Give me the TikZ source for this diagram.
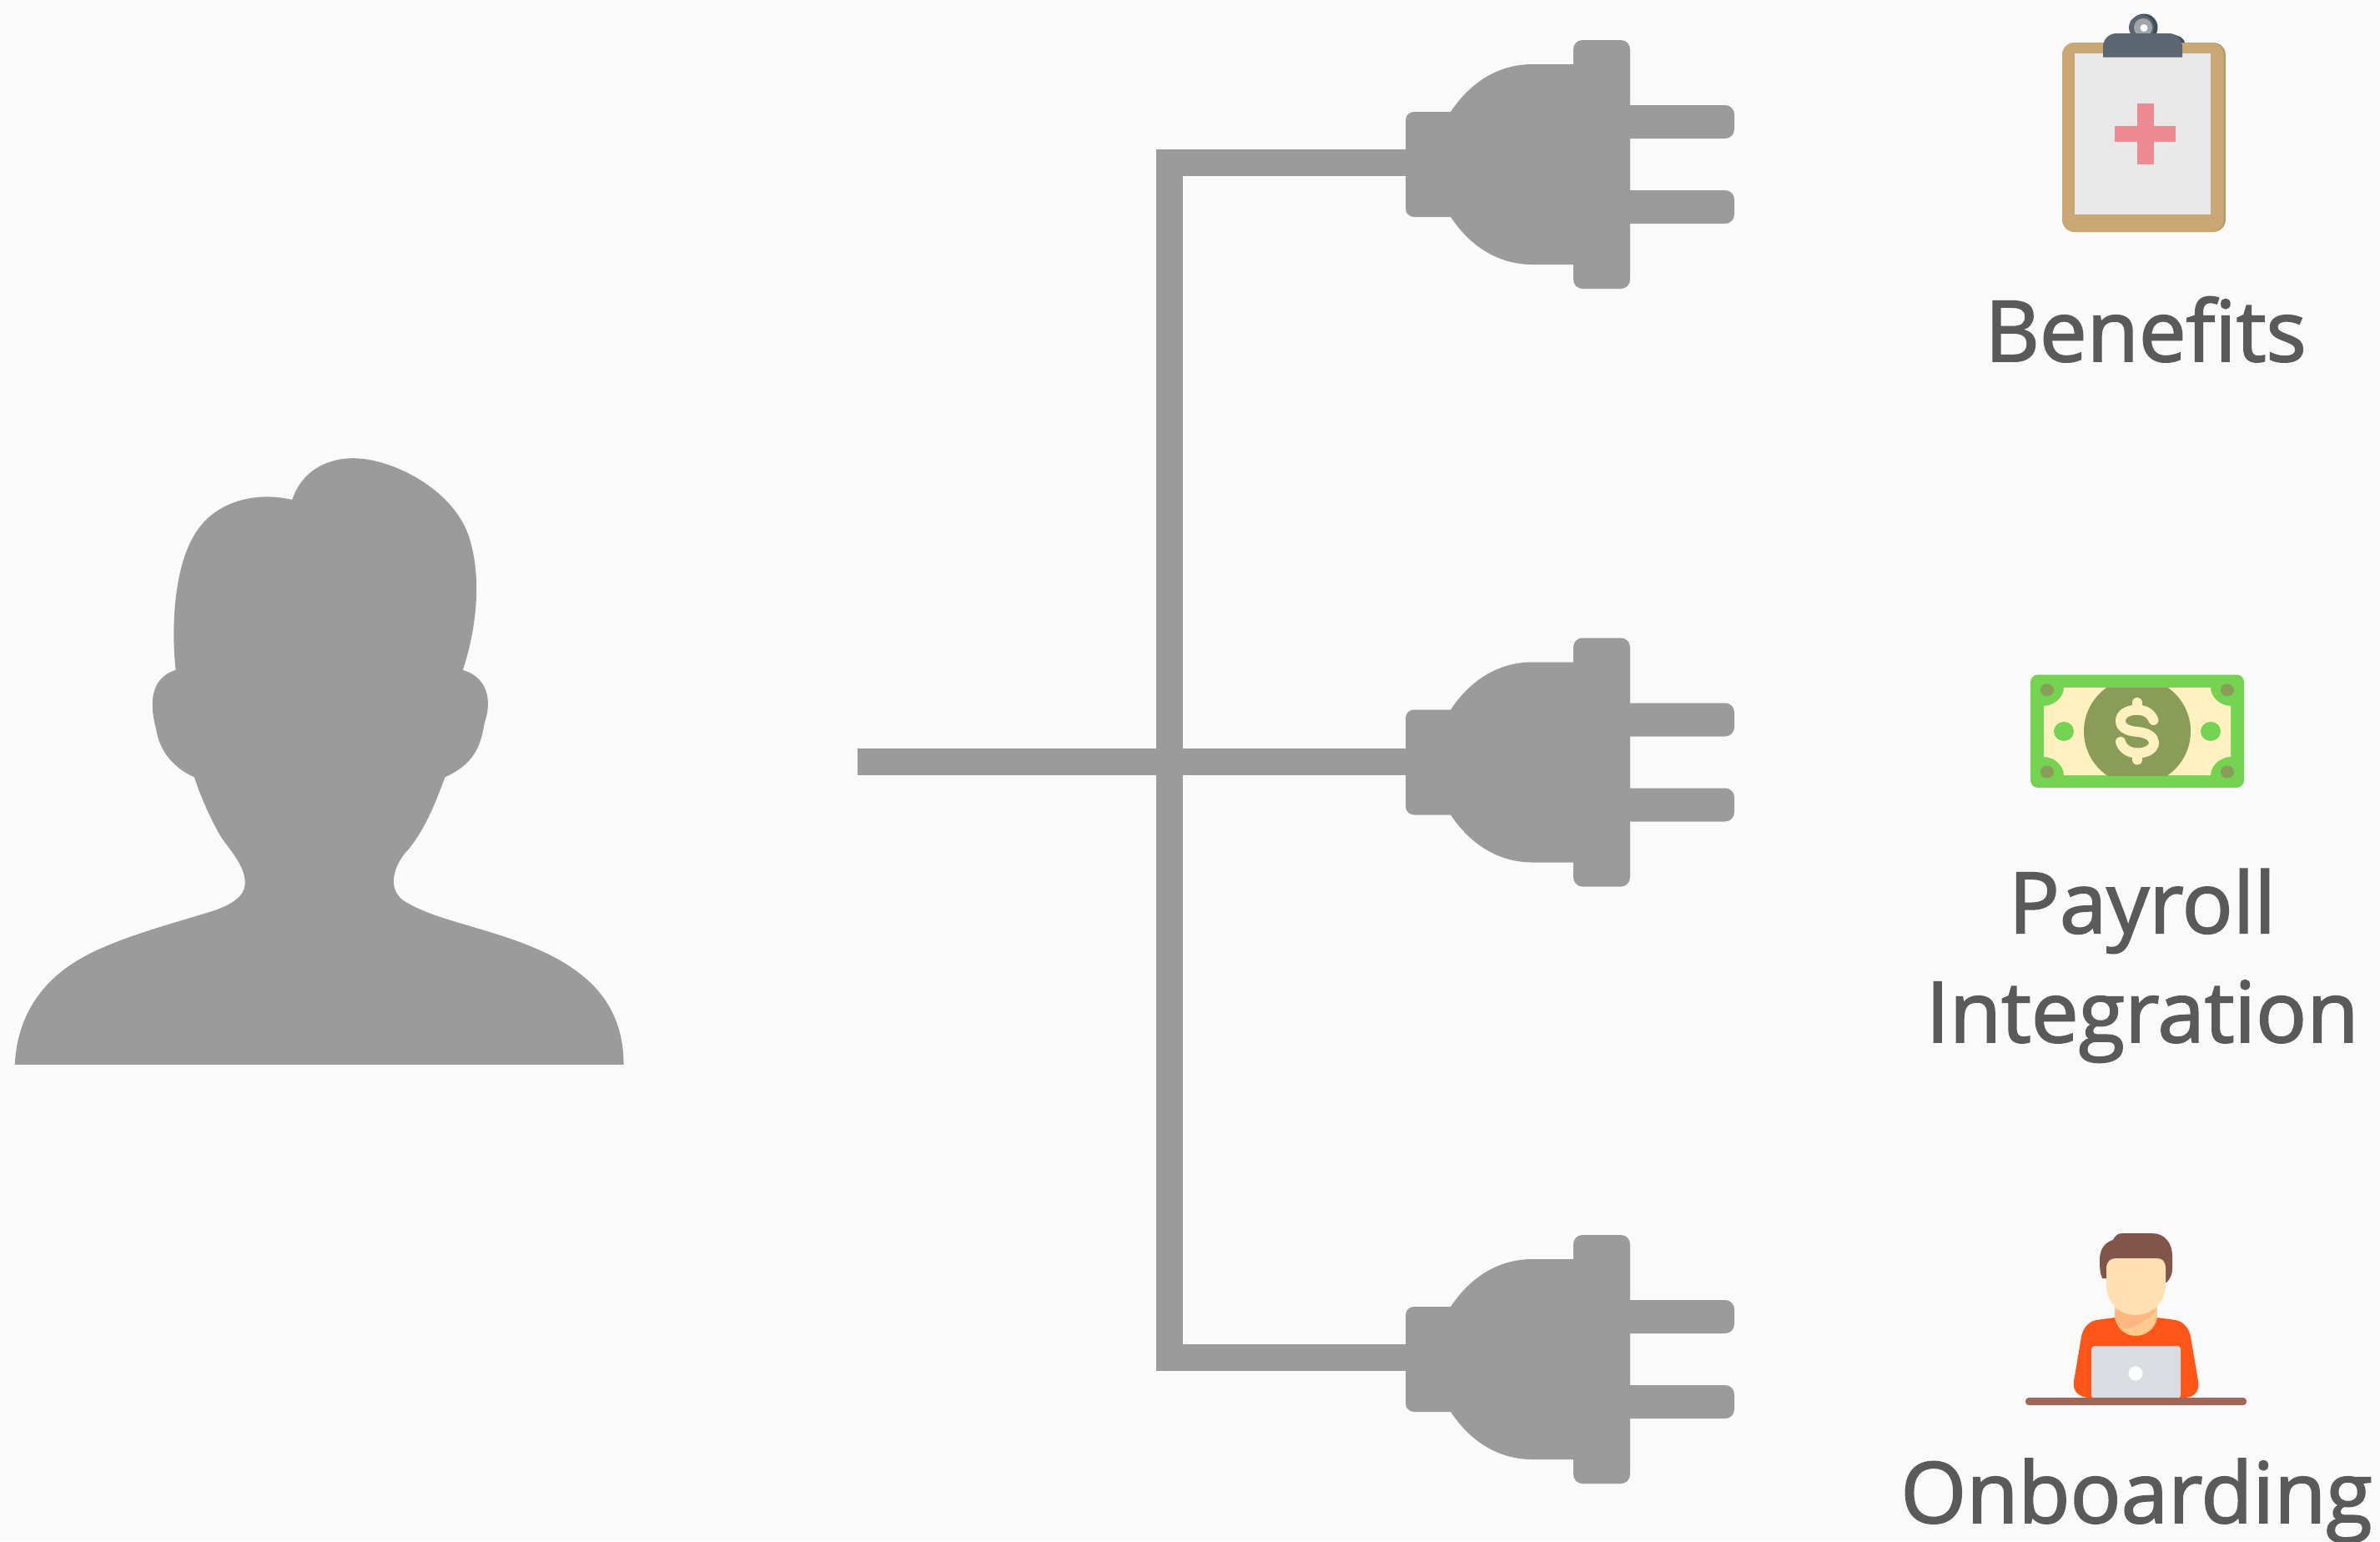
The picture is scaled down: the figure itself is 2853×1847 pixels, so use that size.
\documentclass[tikz,border=0pt]{standalone}
\usepackage{fontspec}
\setmainfont{Open Sans}
\newfontfamily\lblfont{Open Sans}[FakeBold=1.9]
\definecolor{bgc}{HTML}{FAFAFA}
\definecolor{grayc}{HTML}{9B9B9B}
\definecolor{txt}{HTML}{5A5A5A}
\definecolor{tan}{HTML}{C9A876}
\definecolor{tand}{HTML}{B59A6E}
\definecolor{paper}{HTML}{E8E8E8}
\definecolor{crossc}{HTML}{EE8A92}
\definecolor{clipc}{HTML}{5C6670}
\definecolor{clipd}{HTML}{3F4C5C}
\definecolor{ringc}{HTML}{A0A5AB}
\definecolor{billg}{HTML}{74D350}
\definecolor{billc}{HTML}{FFF0C0}
\definecolor{billo}{HTML}{8A9D58}
\definecolor{hair}{HTML}{80564A}
\definecolor{skin}{HTML}{FFE0B2}
\definecolor{neck}{HTML}{FFCC8E}
\definecolor{neckd}{HTML}{FFB780}
\definecolor{shirt}{HTML}{FF5519}
\definecolor{lap}{HTML}{D9DCE1}
\definecolor{desk}{HTML}{A1665A}
\tikzset{
  x=0.01cm,y=-0.01cm,
  lbl/.style={text=txt,font=\lblfont\fontsize{28.8pt}{37.2pt}\selectfont,align=center,inner sep=0pt,anchor=base},
  wire/.style={draw=grayc,line width=0.32cm},
  pic plug/.pic={
    \fill[grayc,rounded corners=0.1cm] (1685,134) -- (1760,134) -- (1760,260) -- (1685,260) -- cycle;
    \fill[grayc] (1739,134) .. controls (1765,95) and (1800,77) .. (1837,77) -- (1900,77) -- (1900,317) -- (1837,317) .. controls (1800,317) and (1765,299) .. (1739,260) -- cycle;
    \fill[grayc,rounded corners=0.11cm] (1886,48) -- (1954,48) -- (1954,346) -- (1886,346) -- cycle;
    \fill[grayc,rounded corners=0.11cm] (1940,126) -- (2079,126) -- (2079,166) -- (1940,166) -- cycle;
    \fill[grayc,rounded corners=0.11cm] (1940,228) -- (2079,228) -- (2079,268) -- (1940,268) -- cycle;
  }
}
\begin{document}
\begin{tikzpicture}
\path[use as bounding box,fill=bgc] (0,0) rectangle (2853,1847);
% person (coordinates measured on a 1.96 x 2.01 enlargement)
\begin{scope}[yshift=-5.2cm,x=0.0051020cm,y=-0.0049751cm]
\fill[grayc] (35,1518)
 .. controls (40,1400) and (100,1320) .. (175,1272)
 .. controls (260,1215) and (420,1175) .. (510,1145)
 .. controls (560,1125) and (578,1105) .. (576,1075)
 .. controls (572,1030) and (530,990) .. (515,962)
 .. controls (495,925) and (470,870) .. (457,826)
 .. controls (410,805) and (375,765) .. (367,710)
 .. controls (355,665) and (345,590) .. (413,568)
 .. controls (400,440) and (415,300) .. (465,230)
 .. controls (505,170) and (590,135) .. (687,158)
 .. controls (712,80) and (780,58) .. (830,58)
 .. controls (920,58) and (1060,130) .. (1100,240)
 .. controls (1135,340) and (1120,470) .. (1088,568)
 .. controls (1145,585) and (1158,640) .. (1139,695)
 .. controls (1128,770) and (1100,800) .. (1046,826)
 .. controls (1025,885) and (1000,950) .. (960,1000)
 .. controls (930,1030) and (900,1100) .. (960,1130)
 .. controls (1020,1165) and (1100,1180) .. (1200,1215)
 .. controls (1340,1265) and (1466,1340) .. (1466,1518) -- cycle;
\end{scope}
% wires
\coordinate (hub) at (1028,912.5);
\coordinate (p1) at (1690,195);
\coordinate (p2) at (1690,912.5);
\coordinate (p3) at (1690,1627);
\draw[wire] (hub) -- (p2);
\draw[wire] (p1) -- (1386,195) -- (1402,195) -- (1402,1627) -- (p3);
% plugs
\path (0,0) pic {pic plug};
\path (0,716.5) pic {pic plug};
\path (0,1432) pic {pic plug};
% clipboard
\fill[tand,rounded corners=0.15cm] (2472,51) rectangle (2668,278);
\fill[tan,rounded corners=0.15cm] (2472,51) rectangle (2665.5,278);
\fill[paper] (2487,64) rectangle (2650,257);
\fill[clipd] (2570,33) circle (16.5);
\fill[clipc] (2567,33) circle (15);
\fill[ringc] (2569,33) circle (11);
\fill[white] (2570,33.5) circle (4.5);
\fill[clipd] (2590,40) .. controls (2608,40) and (2617,44) .. (2619,51) -- (2590,51) -- cycle;
\fill[clipc] (2521,68.5) -- (2521,56) arc (180:270:16) -- (2600,40) arc (-90:0:16) -- (2616,68.5) -- cycle;
\fill[crossc] (2562,124) rectangle (2582,197);
\fill[crossc] (2535,151) rectangle (2608,170);
% money
\fill[billg,rounded corners=0.09cm] (2434,808.5) rectangle (2690,944);
\fill[billc] (2474,824) -- (2650,824) .. controls (2650,836) and (2662,846) .. (2674,846) -- (2674,907) .. controls (2662,907) and (2650,917) .. (2650,929) -- (2474,929) .. controls (2474,917) and (2462,907) .. (2450,907) -- (2450,846) .. controls (2462,846) and (2474,836) .. (2474,824) -- cycle;
\begin{scope}
\clip (2474,824) rectangle (2650,929);
\fill[billo] (2562,876.5) circle (64);
\end{scope}
\draw[billc,line width=0.12cm,line cap=round] (2581.5,863) .. controls (2578,854) and (2570,850.7) .. (2562,850.7) .. controls (2550,850.7) and (2542,856) .. (2542,864) .. controls (2542,872) and (2550,876) .. (2562,877) .. controls (2574,878) and (2582,883) .. (2582,890) .. controls (2582,897) and (2574,902.5) .. (2562,902.5) .. controls (2552,902.5) and (2544,897) .. (2542,889);
\draw[billc,line width=0.12cm,line cap=round] (2562,842) -- (2562,850) (2562,903) -- (2562,910.5);
\foreach \x/\y in {2454/827,2670/827,2454/925,2670/925} \fill[billo] (\x,\y) ellipse (8 and 7.5);
\fill[billg] (2474,876.5) ellipse (12 and 11.5);
\fill[billg] (2650,876.5) ellipse (12 and 11.5);
% worker
\fill[hair] (2520,1532) .. controls (2517,1525) and (2517,1518) .. (2517,1510) .. controls (2517,1497) and (2523,1489) .. (2533,1486) .. controls (2535,1481) and (2539,1478) .. (2544,1478) -- (2580,1478) .. controls (2595,1478) and (2604,1490) .. (2604,1505) -- (2604,1520) .. controls (2604,1528) and (2601,1533) .. (2597,1537) -- cycle;
\fill[neck] (2535,1550) rectangle (2586,1590) ;
\fill[neck] (2535,1578) .. controls (2535,1598) and (2548,1601) .. (2560,1601) .. controls (2572,1601) and (2586,1598) .. (2586,1578) -- cycle;
\fill[shirt] (2535,1579) .. controls (2537,1592) and (2548,1601) .. (2560,1601) .. controls (2573,1601) and (2584,1592) .. (2586,1579) -- (2608,1582) .. controls (2618,1584) and (2624,1592) .. (2626,1602) -- (2635,1655) .. controls (2637,1668) and (2630,1675) .. (2618,1675) -- (2505,1675) .. controls (2493,1675) and (2484,1668) .. (2486,1655) -- (2495,1602) .. controls (2497,1592) and (2503,1584) .. (2513,1582) -- cycle;
\fill[neckd] (2535,1570) -- (2586,1570) .. controls (2575,1580) and (2565,1590) .. (2546,1593) .. controls (2540,1590) and (2536,1585) .. (2535,1579) -- cycle;
\fill[skin] (2525,1520) .. controls (2525,1512) and (2530,1508) .. (2536,1508) -- (2586,1508) .. controls (2592,1508) and (2596,1512) .. (2596,1520) -- (2596,1540) .. controls (2596,1560) and (2580,1576) .. (2560,1576) .. controls (2540,1576) and (2525,1560) .. (2525,1540) -- cycle;
\fill[lap,rounded corners=0.04cm] (2507,1613) rectangle (2614,1676);
\fill[white] (2560,1646) circle (8.5);
\fill[desk,rounded corners=0.04cm] (2428,1675) rectangle (2693,1684);
% labels
\node[lbl] (benefits) at (2572,433) {Benefits};
\node[lbl] (payroll) at (2568,1249) {Payroll\\Integration};
\node[lbl] (onboarding) at (2561,1825) {Onboarding};
\end{tikzpicture}
\end{document}
